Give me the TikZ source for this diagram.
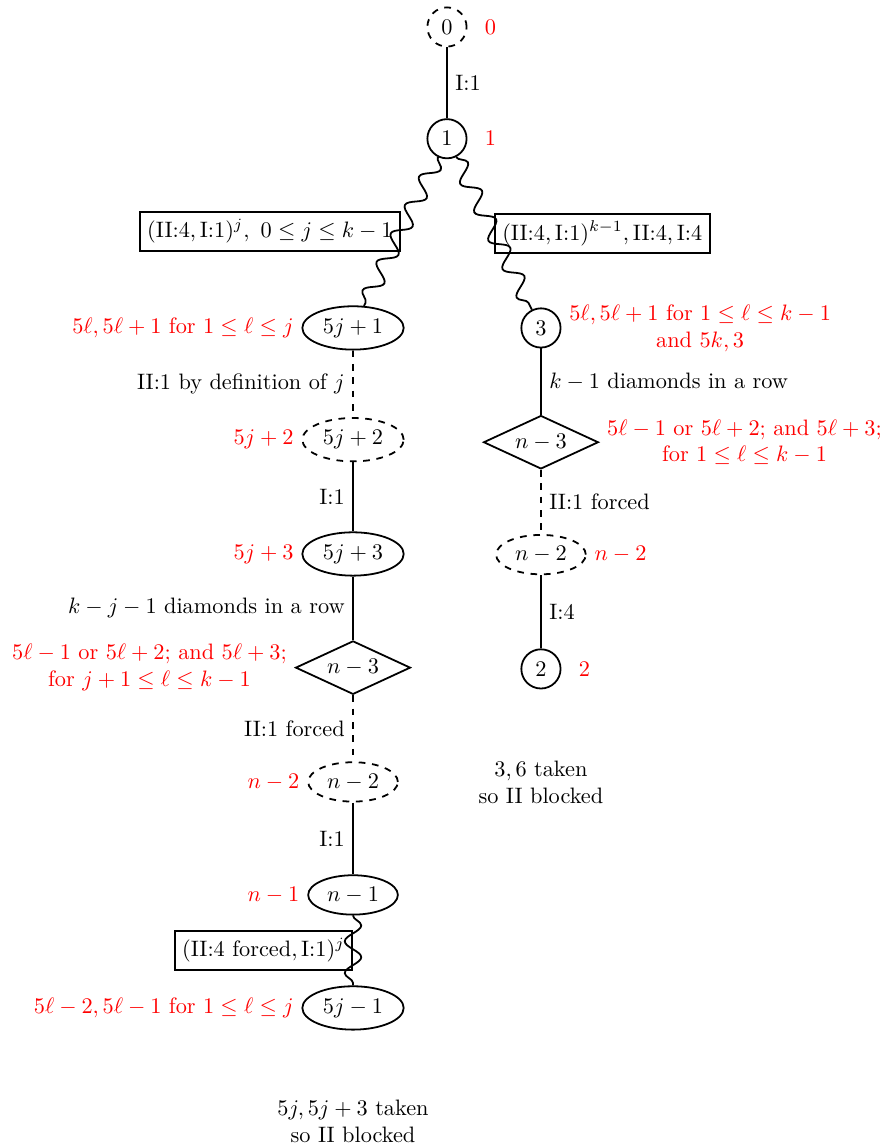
\documentclass[tikz,border=0pt]{standalone}
\usepackage{amsmath}
\usetikzlibrary{shapes.geometric, decorations.pathmorphing, positioning}
\tikzset{
    stone/.style={
        circle, draw=black, thick
    },
    oval/.style={
        ellipse, draw=black, thick, inner sep=2.6pt
    },
    rhomb/.style={
        diamond, aspect=2.15, draw=black, thick, inner sep=2pt
    },
    seq/.style={
        rectangle, draw=black, thick
    },
    move/.style={draw=black, thick},
    wiggle/.style={draw=black, thick, decorate,
        decoration={snake, amplitude=1.3mm, segment length=5mm}},
    used/.style={text=red},
    note/.style={align=center}
}

\begin{document}
\begin{tikzpicture}

\useasboundingbox (-7.04,0.425) rectangle (6.91,-17.64);

% Start of the game
\node[stone, dashed, label={[used, label distance=1.5mm]right:$0$}] (n0) at (0,0) {$0$};
\node[stone, label={[used, label distance=1.5mm]right:$1$}] (n1) at (0,-1.76) {$1$};

% Left branch
\node[oval, label={[used]left:$5\ell, 5\ell+1$ for $1 \le \ell \le j$}] (a1) at (-1.48,-4.74) {$5j+1$};
\node[oval, dashed, label={[used]left:$5j+2$}] (a2) at (-1.48,-6.50) {$5j+2$};
\node[oval, label={[used]left:$5j+3$}] (a3) at (-1.48,-8.30) {$5j+3$};
\node[rhomb, label={[used, align=center]left:$5\ell-1$ or $5\ell+2$; and $5\ell+3$;\\for $j+1 \le \ell \le k-1$}] (a4) at (-1.48,-10.09) {$n-3$};
\node[oval, dashed, label={[used]left:$n-2$}] (a5) at (-1.48,-11.89) {$n-2$};
\node[oval, label={[used]left:$n-1$}] (a6) at (-1.48,-13.67) {$n-1$};
\node[oval, label={[used]left:$5\ell-2, 5\ell-1$ for $1 \le \ell \le j$}] (a7) at (-1.48,-15.45) {$5j-1$};
\node[note] (a8) at (-1.48,-17.24) {$5j, 5j+3$ taken\\so II blocked};

% Right branch
\node[stone, label={[used, align=center]right:$5\ell, 5\ell+1$ for $1 \le \ell \le k-1$\\and $5k, 3$}] (b1) at (1.48,-4.74) {$3$};
\node[rhomb, label={[used, align=center]right:$5\ell-1$ or $5\ell+2$; and $5\ell+3$;\\for $1 \le \ell \le k-1$}] (b2) at (1.48,-6.54) {$n-3$};
\node[oval, dashed, label={[used]right:$n-2$}] (b3) at (1.48,-8.31) {$n-2$};
\node[stone, label={[used, label distance=1.5mm]right:$2$}] (b4) at (1.48,-10.11) {$2$};
\node[note] (b5) at (1.48,-11.9) {$3, 6$ taken\\so II blocked};

% Moves
\draw[move] (n0) -- node[right] {I:1} (n1);
\draw[wiggle] (n1) -- node[seq, anchor=east] {$(\mbox{II:4}, \mbox{I:1})^{j},\ 0 \le j \le k-1$} (a1);
\draw[wiggle] (n1) -- node[seq, anchor=west] {$(\mbox{II:4}, \mbox{I:1})^{k-1}, \mbox{II:4}, \mbox{I:4}$} (b1);

\draw[move, dashed] (a1) -- node[left] {II:1 by definition of $j$} (a2);
\draw[move] (a2) -- node[left] {I:1} (a3);
\draw[move] (a3) -- node[left] {$k-j-1$ diamonds in a row} (a4);
\draw[move, dashed] (a4) -- node[left] {II:1 forced} (a5);
\draw[move] (a5) -- node[left] {I:1} (a6);
\draw[wiggle] (a6) -- node[seq, anchor=east] {$(\mbox{II:4 forced}, \mbox{I:1})^{j}$} (a7);

\draw[move] (b1) -- node[right] {$k-1$ diamonds in a row} (b2);
\draw[move, dashed] (b2) -- node[right] {II:1 forced} (b3);
\draw[move] (b3) -- node[right] {I:4} (b4);

\end{tikzpicture}
\end{document}
